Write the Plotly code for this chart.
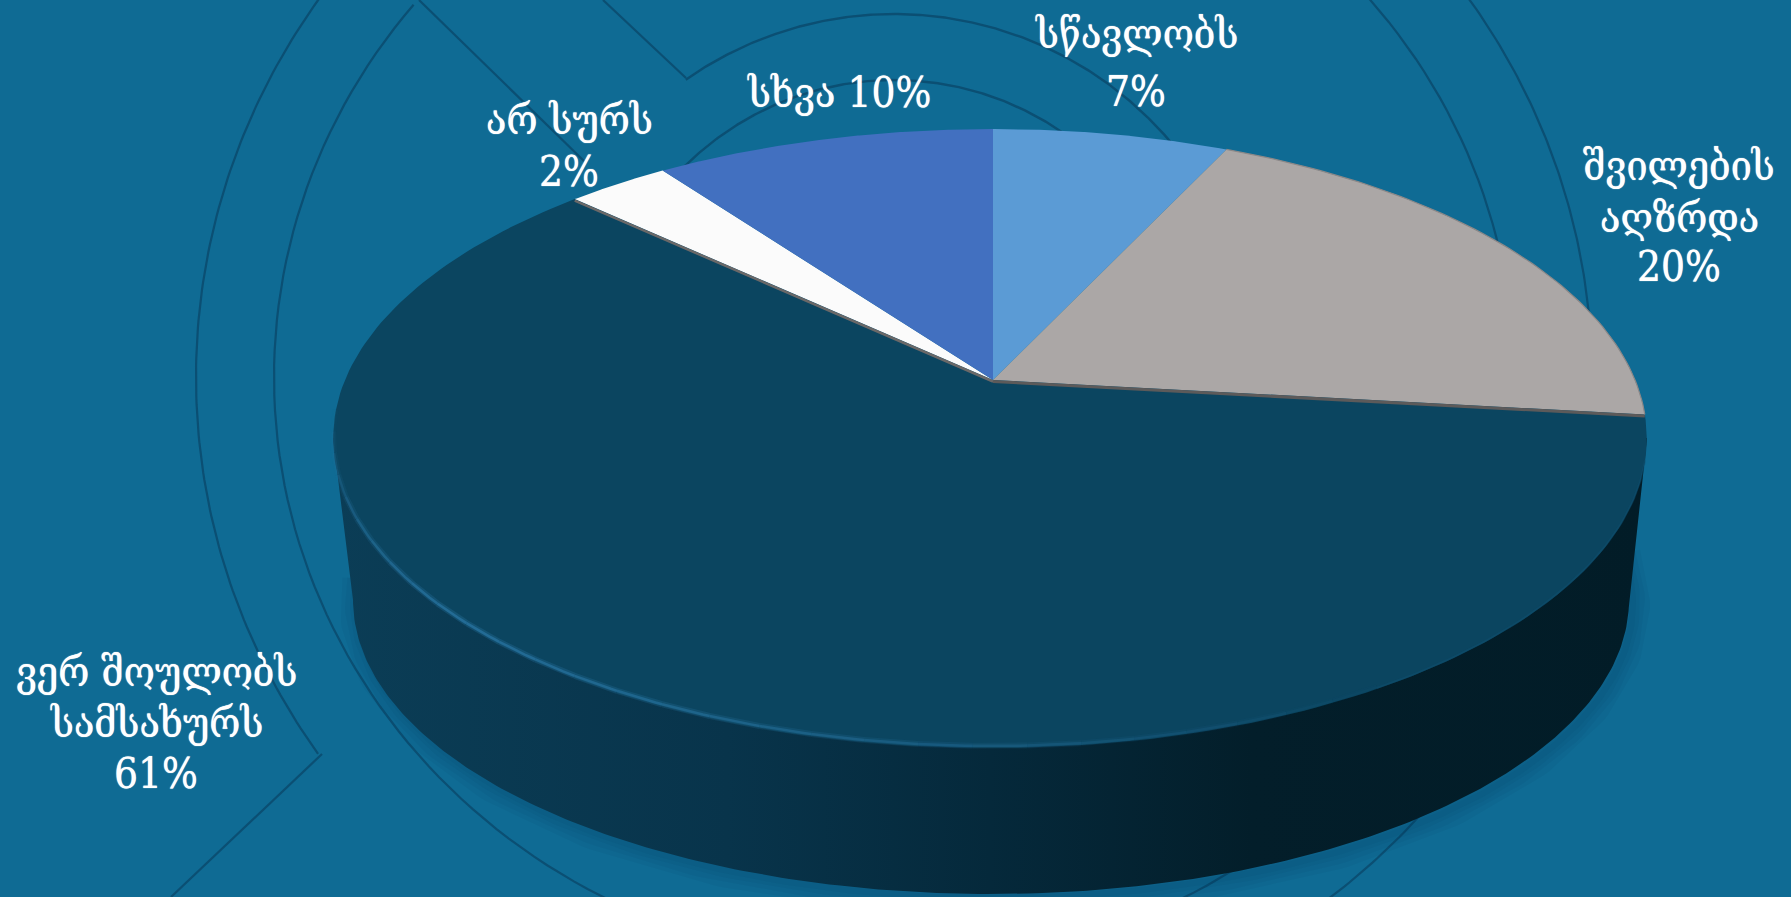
import numpy as np
import plotly.graph_objects as go

W_PX, H_PX = 1791, 897

# ---- data -------------------------------------------------------------
categories = ["სწავლობს", "შვილების<br>აღზრდა", "ვერ შოულობს<br>სამსახურს", "არ სურს", "სხვა"]
printed_percent = [7, 20, 61, 2, 10]          # numbers printed on the labels
slice_shares = [7.0, 19.8, 60.2, 3.0, 10.0]   # wedge sizes
slice_colors = ["#5B9BD5", "#ABA7A6", "#0B4560", "#FBFBFB", "#4270C0"]
label_x = [1136, 1679, 156, 569, 839]
label_baselines = [[48, 106], [180, 232, 281], [686, 737, 788], [134, 186], [107]]

# ---- view geometry (a tilted disc seen in perspective) ------------------
APEX_X, APEX_Y = 993.0, 380.0
PERSP, TILT, W_R, W_L = -0.189, 226.6, 642.0, 648.0
BASE_CX, BASE_CY, BASE_RX, BASE_RY = 991.0, 600.0, 638.0, 294.0
TOP_CX, TOP_CY = 990.0, 438.0

BG = "#0F6B94"
DECOR = "#0B4F73"
FONT = "DejaVu Serif Condensed, DejaVu Serif, serif"
FONT_SIZE = 42


def disc(theta):
    theta = np.asarray(theta, dtype=float)
    u, v = -np.cos(theta), np.sin(theta)
    d = 1 + PERSP * u
    w = np.where(v >= 0, W_R, W_L)
    return APEX_X + w * v / d, (TILT * u + APEX_Y) / d


def ell(cx, cy, a, b, t0, t1, n=240):
    t = np.radians(np.linspace(t0, t1, n))
    return cx + a * np.cos(t), cy + b * np.sin(t)


fig = go.Figure()


def line(x, y, color=DECOR, width=2.2):
    fig.add_trace(go.Scatter(x=x, y=y, mode="lines", line=dict(color=color, width=width),
                             hoverinfo="skip", showlegend=False))


# ---- decorative background rings ----------------------------------------
DC_X, DC_Y = 894, 377
line(*ell(DC_X, DC_Y, 698, 667, 145.6, 302))
line(*ell(DC_X, DC_Y, 698, 667, -62, 60))
x, y = ell(DC_X, DC_Y, 620, 589, -40, 310)
line(x[(y >= -2)], y[(y >= -2)])
line([322, 171], [754, 897])
line([419, 585], [0, 162])
line([603, 686], [0, 78])
line(*ell(DC_X, DC_Y, 363, 363, -125, -40), width=2.4)
line(*ell(DC_X, DC_Y, 297, 297, -135, -45), width=2.4)

# ---- soft shadow under the wall -----------------------------------------
bx, by = ell(BASE_CX, BASE_CY, BASE_RX, BASE_RY, -10, 185)
for w in (34, 24, 14, 6):
    line(bx + 4, by + 4, color="rgba(8,50,78,0.06)", width=w)

# ---- side wall -----------------------------------------------------------
tx_l, ty_l = TOP_CX - 657, TOP_CY
tx_r, ty_r = TOP_CX + 657, TOP_CY
bx, by = ell(BASE_CX, BASE_CY, BASE_RX, BASE_RY, 0, 180)
wall_x = np.r_[tx_r, bx, tx_l, tx_r]
wall_y = np.r_[ty_r, by, ty_l, ty_r]
fig.add_trace(go.Scatter(
    x=wall_x, y=wall_y, mode="lines", fill="toself", line=dict(width=0),
    fillgradient=dict(type="horizontal", colorscale=[
        [0.0, "#0B3D56"], [0.30, "#08344B"], [0.50, "#05293B"], [0.70, "#031E2A"], [1.0, "#021C27"]]),
    hoverinfo="skip", showlegend=False))

# ---- top-face wedges, sized from slice_shares -----------------------------
edges = np.r_[0, np.cumsum(slice_shares)] / sum(slice_shares) * 2 * np.pi
draw_order = [2, 0, 1, 3, 4]
for i in draw_order:
    t = np.linspace(edges[i], edges[i + 1], 200)
    x, y = disc(t)
    fig.add_trace(go.Scatter(
        x=np.r_[APEX_X, x, APEX_X], y=np.r_[APEX_Y, y, APEX_Y], mode="lines", fill="toself",
        fillcolor=slice_colors[i], line=dict(width=0), hoverinfo="skip", showlegend=False))

# grey bevel along the dark wedge's straight edges
ex, ey = disc([edges[2]])
line([APEX_X, ex[0]], [APEX_Y + 1.5, ey[0] + 1.5], color="#5C5A5A", width=3)
ex, ey = disc([edges[3]])
line([APEX_X, ex[0]], [APEX_Y + 1.5, ey[0] + 1.5], color="#6A6868", width=2.5)
# grey rim on the grey wedge
x, y = disc(np.linspace(edges[1], edges[2], 80))
line(x, y, color="#8C8888", width=1.2)

# highlight along the front rim of the dark wedge, fading to the right
rim = np.radians(np.linspace(264, 150, 30))
fade = np.r_[np.linspace(0.1, 1.0, 10), np.linspace(1.0, 0.0, 20)]
for k in range(len(rim) - 1):
    x, y = disc(np.linspace(rim[k], rim[k + 1], 8))
    line(x, y - 2, color=f"rgba(38,112,155,{fade[k] * 0.35:.3f})", width=6)
    line(x, y - 2, color=f"rgba(38,112,155,{fade[k] * 0.85:.3f})", width=2.5)
# faint rim beyond the highlight
x, y = disc(np.radians(np.linspace(150, 105, 60)))
line(x, y - 1, color="rgba(15,80,112,0.45)", width=2)

# ---- labels: one real text per printed line -------------------------------
for name, pct, px, bases in zip(categories, printed_percent, label_x, label_baselines):
    lines = name.split("<br>") + [f"{pct}%"]
    if len(bases) == 1:
        lines = [" ".join(lines)]
    for txt, base in zip(lines, bases):
        fig.add_annotation(x=px, y=base - 0.345 * FONT_SIZE, text=txt, showarrow=False,
                           xanchor="center", yanchor="middle",
                           font=dict(family=FONT, size=FONT_SIZE, color="white",
                                     shadow="0 0 1px #ffffff"))

fig.update_layout(
    width=W_PX, height=H_PX, autosize=False,
    margin=dict(l=0, r=0, t=0, b=0),
    paper_bgcolor=BG, plot_bgcolor=BG, showlegend=False,
    xaxis=dict(range=[0, W_PX], visible=False, fixedrange=True),
    yaxis=dict(range=[H_PX, 0], visible=False, fixedrange=True),
)
fig.write_html("out.html", config={"displayModeBar": False},
               post_script="document.body.style.margin='0';document.body.style.overflow='hidden';document.body.style.background='" + BG + "';")
